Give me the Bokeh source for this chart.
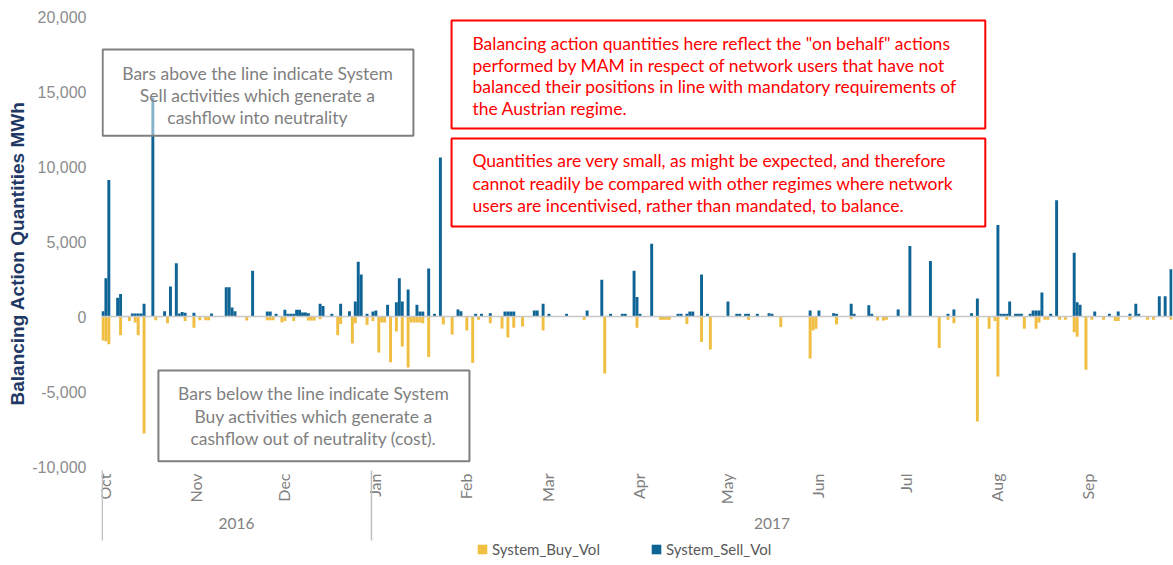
import numpy as np
from bokeh.plotting import figure
from bokeh.models import Range1d, FixedTicker, NumeralTickFormatter, Legend, LegendItem, Span, Title
from bokeh.core.properties import value
from bokeh.embed import file_html
from bokeh.resources import INLINE

# ---------------- data ----------------
months = ["Oct", "Nov", "Dec", "Jan", "Feb", "Mar", "Apr", "May", "Jun", "Jul", "Aug", "Sep"]
month_days = [31, 30, 31, 31, 28, 31, 30, 31, 30, 31, 31, 30]
years = ["2016", "2017"]
year_days = [92, 273]
yticks = [-10000, -5000, 0, 5000, 10000, 15000, 20000]

# System_Sell_Vol (MWh per gas day), Oct 2016 - Sep 2017
sell_oct = [350, 2550, 9100, 0, 0, 1250, 1500, 0, 0, 0, 200, 200, 200, 200, 850, 0, 0, 14600, 0, 0, 0, 350, 0, 2000, 0, 3550, 200, 300, 250, 0, 0]
sell_nov = [250, 0, 0, 0, 0, 0, 200, 0, 0, 0, 0, 1950, 1950, 600, 350, 0, 0, 0, 0, 0, 3050, 0, 0, 0, 0, 330, 330, 0, 180, 0]
sell_dec = [0, 450, 180, 180, 180, 450, 450, 270, 270, 220, 0, 0, 0, 850, 700, 0, 0, 180, 0, 0, 850, 0, 0, 350, 0, 1000, 3650, 2800, 0, 180, 0]
sell_jan = [330, 400, 0, 0, 0, 780, 0, 0, 950, 2550, 1000, 0, 1800, 0, 0, 780, 330, 330, 0, 3200, 0, 180, 0, 10600, 0, 0, 0, 0, 0, 470, 350]
sell_feb = [0, 0, 0, 0, 180, 0, 180, 0, 0, 220, 0, 0, 0, 0, 330, 330, 330, 330, 0, 0, 0, 0, 0, 0, 400, 400, 0, 850]
sell_mar = [0, 180, 0, 0, 0, 0, 0, 180, 0, 0, 0, 0, 0, 0, 400, 0, 0, 0, 0, 2450, 0, 0, 180, 0, 0, 0, 180, 180, 0, 0, 3050]
sell_apr = [1300, 180, 0, 0, 0, 4850, 0, 0, 0, 0, 0, 0, 0, 0, 180, 180, 0, 180, 330, 330, 0, 0, 2800, 0, 180, 0, 0, 0, 0, 0]
sell_may = [0, 1000, 0, 0, 180, 180, 0, 180, 180, 0, 0, 180, 0, 0, 0, 220, 180, 0, 0, 0, 0, 0, 0, 0, 0, 0, 0, 0, 0, 400, 0]
sell_jun = [0, 400, 0, 0, 0, 0, 220, 180, 0, 0, 0, 0, 850, 180, 0, 0, 0, 0, 750, 180, 0, 0, 0, 0, 0, 0, 0, 0, 470, 0]
sell_jul = [0, 0, 4700, 0, 0, 0, 0, 0, 0, 3700, 0, 0, 0, 0, 0, 180, 0, 470, 0, 0, 0, 0, 0, 220, 0, 1200, 0, 0, 0, 0, 0]
sell_aug = [0, 6100, 180, 180, 180, 1000, 0, 180, 180, 180, 0, 0, 180, 400, 400, 400, 1600, 0, 0, 180, 0, 7750, 0, 0, 0, 0, 0, 4250, 950, 780, 0]
sell_sep = [0, 0, 0, 330, 0, 0, 0, 0, 180, 0, 0, 330, 0, 0, 0, 180, 0, 850, 180, 0, 0, 0, 0, 0, 0, 1350, 0, 1350, 0, 3150]

# System_Buy_Vol (MWh per gas day, negative)
buy_oct = [-1600, -1650, -1850, 0, 0, 0, -1250, 0, 0, -300, 0, -400, -1250, 0, -7800, 0, 0, 0, -250, 0, 0, 0, -450, 0, 0, 0, 0, 0, -300, 0, 0]
buy_nov = [-750, 0, -250, 0, -250, -250, 0, 0, 0, 0, 0, 0, 0, 0, 0, 0, 0, 0, -270, 0, 0, 0, 0, 0, 0, -250, -250, -250, 0, 0]
buy_dec = [-400, -300, 0, 0, -300, 0, 0, 0, 0, -270, -270, -270, 0, -180, 0, 0, 0, 0, 0, -1250, -500, 0, 0, 0, -1800, -450, 0, 0, 0, -560, 0]
buy_jan = [-300, 0, -2400, -400, -400, 0, -3050, 0, -1000, 0, -2000, 0, -3400, -400, -400, -400, -400, -450, 0, -2700, 0, 0, 0, 0, -530, 0, 0, -1200, 0, 0, 0]
buy_feb = [0, -930, 0, -3100, 0, -220, 0, 0, 0, -450, 0, 0, 0, -800, 0, -1400, 0, -750, 0, 0, -670, 0, 0, 0, 0, 0, 0, -930]
buy_mar = [0, 0, 0, 0, 0, 0, 0, 0, 0, 0, 0, 0, 0, -220, 0, 0, 0, 0, 0, 0, -3800, 0, 0, 0, 0, 0, 0, 0, 0, 0, 0]
buy_apr = [-750, 0, 0, 0, 0, 0, 0, 0, -220, -220, -220, -220, 0, 0, 0, 0, 0, -500, 0, 0, 0, 0, -1700, 0, 0, -2200, 0, 0, 0, 0]
buy_may = [0, 0, 0, 0, 0, 0, 0, 0, -220, 0, 0, 0, 0, 0, 0, 0, 0, 0, 0, -700, 0, 0, 0, 0, 0, 0, 0, 0, 0, -2800, -930]
buy_jun = [-820, 0, 0, 0, 0, 0, 0, -530, 0, 0, 0, 0, -180, 0, 0, 0, 0, 0, 0, 0, 0, -270, 0, -270, -220, 0, 0, 0, 0, 0]
buy_jul = [0, 0, 0, 0, 0, 0, 0, 0, 0, 0, 0, 0, -2100, 0, 0, -220, 0, -450, 0, 0, 0, 0, 0, 0, 0, -7000, 0, 0, 0, -820, 0]
buy_aug = [-300, -4000, 0, 0, -220, 0, 0, 0, 0, 0, -820, 0, 0, 0, -820, -400, 0, -220, -220, 0, 0, 0, -220, 0, -220, 0, 0, -1050, -1350, 0, 0]
buy_sep = [-3550, 0, -220, 0, 0, 0, -220, 0, 0, 0, -300, -300, 0, 0, 0, -220, 0, 0, 0, 0, 0, -220, 0, -220, 0, 0, 0, 0, 0, -220]

sell = (sell_oct + sell_nov + sell_dec + sell_jan + sell_feb + sell_mar +
        sell_apr + sell_may + sell_jun + sell_jul + sell_aug + sell_sep)
buy = (buy_oct + buy_nov + buy_dec + buy_jan + buy_feb + buy_mar +
       buy_apr + buy_may + buy_jun + buy_jul + buy_aug + buy_sep)
n_days = len(sell)
day_x = np.arange(n_days) + 0.5
month_start = np.concatenate([[0], np.cumsum(month_days)[:-1]])

note_sell = ["Bars above the line indicate System",
             "Sell activities which generate a",
             "cashflow into neutrality"]
note_buy = ["Bars below the line indicate System",
            "Buy activities which generate a",
            "cashflow out of neutrality (cost)."]
note_red1 = ["Balancing action quantities here reflect the \"on behalf\" actions",
             "performed by MAM in respect of network users that have not",
             "balanced their positions in line with mandatory requirements of",
             "the Austrian regime."]
note_red2 = ["Quantities are very small, as might be expected, and therefore",
             "cannot readily be compared with other regimes where network",
             "users are incentivised, rather than mandated, to balance."]

# ---------------- styling ----------------
BLUE = "#0F6496"
GOLD = "#F0BE41"
GREY = "#7F7F7F"
FONT = "Lato"
NOTE_SIZE = "17.5px"

p = figure(width=1173, height=565,
           x_range=Range1d(0, n_days), y_range=Range1d(-16600, 20000),
           x_axis_location=None, toolbar_location=None, output_backend="svg",
           min_border_left=101, min_border_right=1, min_border_top=16, min_border_bottom=0)
p.outline_line_color = None
p.grid.grid_line_color = None
p.background_fill_color = "white"

yax = p.yaxis[0]
yax.ticker = FixedTicker(ticks=yticks)
yax.formatter = NumeralTickFormatter(format="0,0")
yax.axis_line_color = None
yax.major_tick_line_color = None
yax.minor_tick_line_color = None
yax.major_tick_out = 0
yax.major_tick_in = 0
yax.major_label_standoff = 15
yax.major_label_text_font = "Liberation Sans"
yax.major_label_text_font_size = "16px"
yax.major_label_text_color = "#8C8C8C"

p.add_layout(Title(text="Balancing Action Quantities MWh", align="left", offset=160,
                   text_font="Liberation Sans", text_font_style="bold",
                   text_font_size="19px", text_color="#1F3864", standoff=3), "left")

r_buy = p.vbar(x=day_x, top=buy, bottom=0, width=1.0, fill_color=GOLD, line_color=None)
r_sell = p.vbar(x=day_x, top=sell, bottom=0, width=1.0, fill_color=BLUE, line_color=None)

p.add_layout(Span(location=0, dimension="width", line_color="#C8C8C8", line_width=1.5))

# annotation boxes
p.quad(left=[0.4], right=[106.3], top=[17800], bottom=[12050],
       fill_color="white", fill_alpha=0.5, line_color=GREY, line_width=2)
p.quad(left=[19.4], right=[125.4], top=[-3600], bottom=[-9650],
       fill_color="white", fill_alpha=0.6, line_color=GREY, line_width=2)
p.quad(left=[119.3, 119.3], right=[301.2, 301.2], top=[19733, 11867], bottom=[12533, 6000],
       fill_color="white", fill_alpha=1.0, line_color="#FF0000", line_width=2)

p.text(x=[53.2] * 3, y=[16200, 14733, 13267], text=note_sell,
       text_font=value(FONT), text_font_size=NOTE_SIZE, text_color=GREY,
       text_align="center", text_baseline="middle")
p.text(x=[72.3] * 3, y=[-5133, -6667, -8133], text=note_buy,
       text_font=value(FONT), text_font_size=NOTE_SIZE, text_color=GREY,
       text_align="center", text_baseline="middle")
p.text(x=[126.4] * 4, y=[18200, 16733, 15333, 13867], text=note_red1,
       text_font=value(FONT), text_font_size=NOTE_SIZE, text_color="#FF0000",
       text_align="left", text_baseline="middle")
p.text(x=[126.4] * 3, y=[10400, 8867, 7400], text=note_red2,
       text_font=value(FONT), text_font_size=NOTE_SIZE, text_color="#FF0000",
       text_align="left", text_baseline="middle")

# month / year axis labels
p.text(x=month_start + 1.0, y=[-10467] * len(months), text=months, angle=np.pi / 2,
       text_font=value(FONT), text_font_size="16px", text_color=GREY,
       text_align="right", text_baseline="middle")
p.text(x=[46, 228.5], y=[-13800, -13800], text=years,
       text_font=value(FONT), text_font_size="15.5px", text_color=GREY,
       text_align="center", text_baseline="middle")
p.segment(x0=[0.25, year_days[0]], x1=[0.25, year_days[0]], y0=[-10270, -10270], y1=[-14930, -14930],
          line_color="#BFBFBF", line_width=1.5)

legend = Legend(items=[LegendItem(label="System_Buy_Vol", renderers=[r_buy]),
                       LegendItem(label="System_Sell_Vol", renderers=[r_sell])],
                orientation="horizontal", location=(375, 7),
                border_line_color=None, background_fill_alpha=0,
                padding=0, margin=0, spacing=50,
                glyph_width=12, glyph_height=12, label_standoff=4,
                label_text_font=FONT, label_text_font_size="15px",
                label_text_color="#595959")
p.add_layout(legend)

open("out.html", "w").write(file_html(p, INLINE))
